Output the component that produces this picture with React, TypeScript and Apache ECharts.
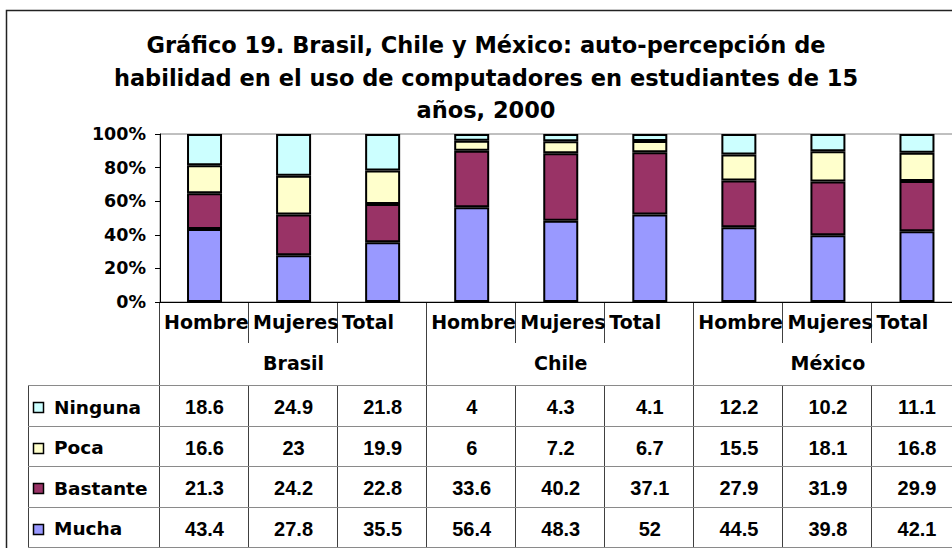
import React, { useEffect, useRef } from "react";
import * as echarts from "echarts";

// ---- data ----
const groups = ["Brasil", "Chile", "México"];
const subcategories = ["Hombre", "Mujeres", "Total"];
const seriesNames = ["Ninguna", "Poca", "Bastante", "Mucha"]; // table order (top to bottom)
const ninguna = [18.6, 24.9, 21.8, 4, 4.3, 4.1, 12.2, 10.2, 11.1];
const poca = [16.6, 23, 19.9, 6, 7.2, 6.7, 15.5, 18.1, 16.8];
const bastante = [21.3, 24.2, 22.8, 33.6, 40.2, 37.1, 27.9, 31.9, 29.9];
const mucha = [43.4, 27.8, 35.5, 56.4, 48.3, 52, 44.5, 39.8, 42.1];
const seriesColors = ["#CCFFFF", "#FFFFCC", "#993366", "#9999FF"];
const titleLines = [
  "Gráfico 19. Brasil, Chile y México: auto-percepción de",
  "habilidad en el uso de computadores en estudiantes de 15",
  "años, 2000",
];

export default function App() {
  const ref = useRef<HTMLDivElement>(null);

  useEffect(() => {
    if (!ref.current) return;
    const chart = echarts.init(ref.current, undefined, { renderer: "svg" });

    const H = 548;
    const gridLeft = 160;
    const gridTop = 134;
    const gridBottomY = 302;
    const gridWidth = 801.5;
    const nCat = groups.length * subcategories.length;
    const catW = gridWidth / nCat;

    const catKeys: string[] = [];
    groups.forEach((g) => subcategories.forEach((s) => catKeys.push(g + " " + s)));

    const valuesByName: Record<string, number[]> = {
      Ninguna: ninguna,
      Poca: poca,
      Bastante: bastante,
      Mucha: mucha,
    };
    const totals = catKeys.map((_, i) =>
      seriesNames.reduce((acc, n) => acc + valuesByName[n][i], 0)
    );

    const stackOrder = ["Mucha", "Bastante", "Poca", "Ninguna"];
    const series = stackOrder.map((name) => ({
      name,
      type: "bar",
      stack: "all",
      barWidth: 35,
      data: valuesByName[name].map((v, i) => (v / totals[i]) * 100),
      itemStyle: {
        color: seriesColors[seriesNames.indexOf(name)],
        borderColor: "#000",
        borderWidth: 2,
      },
      emphasis: { disabled: true },
    }));

    const labelFont = "DejaVu Sans";
    const numFont = "Liberation Sans";
    const vCol = "#404040";
    const hCol = "#8a8a8a";

    const graphic: any[] = [];
    // outer frame
    graphic.push({
      type: "rect",
      shape: { x: 6.5, y: 10.5, width: 1200, height: 800 },
      style: { fill: "none", stroke: "#222", lineWidth: 1.5 },
      silent: true,
    });
    // title
    titleLines.forEach((t, i) => {
      graphic.push({
        type: "text",
        x: 486,
        y: 45 + i * 32.5,
        style: {
          text: t,
          font: `bold 22.5px "${labelFont}"`,
          fill: "#000",
          align: "center",
          verticalAlign: "middle",
        },
        silent: true,
      });
    });

    const headerTop = gridBottomY;
    const subSepBottom = 343;
    const groupRowBottom = 386;
    const rowH = (H - groupRowBottom) / seriesNames.length;
    const tableRight = gridLeft + gridWidth;

    // vertical lines
    for (let k = 0; k <= nCat; k++) {
      const x = Math.round(gridLeft + k * catW) - 0.5;
      if (k % subcategories.length === 0) {
        graphic.push({
          type: "line",
          shape: { x1: x, y1: headerTop, x2: x, y2: H + 5 },
          style: { stroke: vCol, lineWidth: 1 },
          silent: true,
        });
      } else {
        graphic.push({
          type: "line",
          shape: { x1: x, y1: headerTop, x2: x, y2: subSepBottom },
          style: { stroke: vCol, lineWidth: 1 },
          silent: true,
        });
        graphic.push({
          type: "line",
          shape: { x1: x, y1: groupRowBottom, x2: x, y2: H + 5 },
          style: { stroke: vCol, lineWidth: 1 },
          silent: true,
        });
      }
    }
    // legend column left border
    graphic.push({
      type: "line",
      shape: { x1: 28.5, y1: groupRowBottom, x2: 28.5, y2: H + 5 },
      style: { stroke: vCol, lineWidth: 1 },
      silent: true,
    });
    // horizontal lines
    for (let r = 0; r <= seriesNames.length; r++) {
      const y = Math.round(groupRowBottom + r * rowH) - 0.5;
      graphic.push({
        type: "line",
        shape: { x1: 28, y1: y, x2: tableRight + 50, y2: y },
        style: { stroke: hCol, lineWidth: 1 },
        silent: true,
      });
    }

    // header labels
    catKeys.forEach((_, i) => {
      const sub = subcategories[i % subcategories.length];
      graphic.push({
        type: "text",
        x: gridLeft + i * catW + 4,
        y: 322,
        style: {
          text: sub,
          font: `bold 19px "${labelFont}"`,
          fill: "#000",
          align: "left",
          verticalAlign: "middle",
        },
        silent: true,
      });
    });
    groups.forEach((g, gi) => {
      graphic.push({
        type: "text",
        x: gridLeft + (gi + 0.5) * subcategories.length * catW,
        y: 363,
        style: {
          text: g,
          font: `bold 19px "${labelFont}"`,
          fill: "#000",
          align: "center",
          verticalAlign: "middle",
        },
        silent: true,
      });
    });

    // rows: legend + numbers
    seriesNames.forEach((name, r) => {
      const cy = groupRowBottom + (r + 0.5) * rowH + 1;
      graphic.push({
        type: "rect",
        shape: { x: 33.5, y: Math.round(cy - 5) + 0.5, width: 10, height: 10 },
        style: { fill: seriesColors[r], stroke: "#000", lineWidth: 1.5 },
        silent: true,
      });
      graphic.push({
        type: "text",
        x: 54,
        y: cy,
        style: {
          text: name,
          font: `bold 18.5px "${labelFont}"`,
          fill: "#000",
          align: "left",
          verticalAlign: "middle",
        },
        silent: true,
      });
      valuesByName[name].forEach((v, i) => {
        graphic.push({
          type: "text",
          x: gridLeft + (i + 0.5) * catW,
          y: cy,
          style: {
            text: String(v),
            font: `bold 20px "${numFont}"`,
            fill: "#000",
            align: "center",
            verticalAlign: "middle",
          },
          silent: true,
        });
      });
    });

    chart.setOption({
      animation: false,
      backgroundColor: "#fff",
      grid: {
        left: gridLeft,
        top: gridTop,
        width: gridWidth,
        height: gridBottomY - gridTop,
        show: true,
        borderColor: "#808080",
        borderWidth: 1,
        backgroundColor: "transparent",
      },
      xAxis: {
        type: "category",
        data: catKeys,
        axisLine: { show: true, lineStyle: { color: "#000", width: 1 } },
        axisTick: { show: false },
        axisLabel: { show: false },
        splitLine: { show: false },
      },
      yAxis: {
        type: "value",
        min: 0,
        max: 100,
        interval: 20,
        axisLine: { show: true, lineStyle: { color: "#000", width: 1 } },
        axisTick: { show: true, length: 5, lineStyle: { color: "#000", width: 1 } },
        splitLine: { show: false },
        axisLabel: {
          formatter: "{value}%",
          color: "#000",
          fontFamily: labelFont,
          fontWeight: "bold",
          fontSize: 17.5,
          margin: 14,
        },
      },
      series,
      graphic,
    });

    return () => chart.dispose();
  }, []);

  return (
    <div
      style={{
        position: "fixed",
        left: 0,
        top: 0,
        width: 952,
        height: 548,
        overflow: "hidden",
        background: "#fff",
      }}
    >
      <div ref={ref} style={{ width: 1000, height: 548 }} />
    </div>
  );
}
